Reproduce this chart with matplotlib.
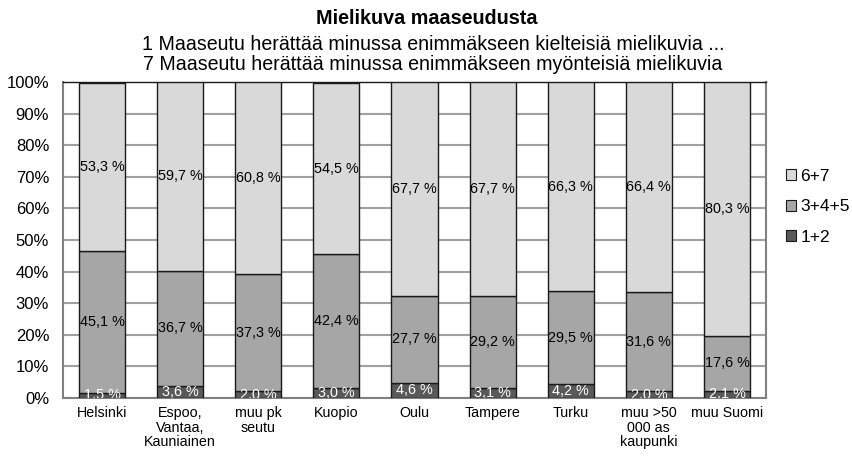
import matplotlib
matplotlib.use("Agg")
import matplotlib.pyplot as plt
import numpy as np

plt.rcParams['font.family'] = ['Liberation Sans', 'DejaVu Sans']

categories = ["Helsinki", "Espoo,\nVantaa,\nKauniainen", "muu pk\nseutu", "Kuopio", "Oulu",
              "Tampere", "Turku", "muu >50\n000 as\nkaupunki", "muu Suomi"]
s12 = [1.5, 3.6, 2.0, 3.0, 4.6, 3.1, 4.2, 2.0, 2.1]
s345 = [45.1, 36.7, 37.3, 42.4, 27.7, 29.2, 29.5, 31.6, 17.6]
s67 = [53.3, 59.7, 60.8, 54.5, 67.7, 67.7, 66.3, 66.4, 80.3]
series_names = ["1+2", "3+4+5", "6+7"]
yticks = [0, 10, 20, 30, 40, 50, 60, 70, 80, 90, 100]

colors = ["#595959", "#a6a6a6", "#d9d9d9"]
text_colors = ["white", "black", "black"]

fig = plt.figure(figsize=(8.53, 4.57), dpi=100)
ax = fig.add_axes([0.0739, 0.1298, 0.898 - 0.0739, 0.820 - 0.1298])

x = np.arange(len(categories))
bottom = np.zeros(len(categories))
handles = []
for vals, name, col, tcol in zip([s12, s345, s67], series_names, colors, text_colors):
    vals = np.array(vals)
    bars = ax.bar(x, vals, width=0.59, bottom=bottom, color=col, edgecolor="#1a1a1a",
                  linewidth=1.0, label=name, zorder=3)
    handles.append(bars)
    for xi, b, v in zip(x, bottom, vals):
        ax.text(xi, b + v / 2, f"{v:.1f} %".replace(".", ","), ha="center", va="center",
                fontsize=10.4, color=tcol, zorder=4, clip_on=True)
    bottom += vals

ax.set_xlim(-0.5, len(categories) - 0.5)
ax.set_ylim(0, 100)
ax.set_yticks(yticks)
ax.set_yticklabels([f"{t}%" for t in yticks], fontsize=12)
ax.set_xticks(x)
ax.set_xticklabels(categories, fontsize=10.3, linespacing=1.05, va="top")
ax.tick_params(axis="x", length=0, pad=6)
ax.tick_params(axis="y", length=0, pad=10)
ax.yaxis.grid(True, color="#a0a0a0", linewidth=1.5, zorder=0)
ax.set_axisbelow(True)
for sp in ax.spines.values():
    sp.set_color("#808080")
    sp.set_linewidth(1.5)
ax.spines["top"].set_color("#1a1a1a")
ax.spines["top"].set_linewidth(1.0)

leg = fig.legend(handles[::-1], series_names[::-1], loc="upper left",
                 bbox_to_anchor=(0.9027, 0.665), frameon=False, fontsize=12.5,
                 handlelength=0.6, handleheight=0.6, handletextpad=0.25, labelspacing=0.9)
for p in leg.get_patches():
    p.set_edgecolor("#1a1a1a")
    p.set_linewidth(0.8)

fig.text(427 / 853, 1 - 18 / 457, "Mielikuva maaseudusta", ha="center", va="center",
         fontsize=14.2, fontweight="bold")
fig.text(433 / 853, 1 - 44 / 457,
         "1 Maaseutu herättää minussa enimmäkseen kielteisiä mielikuvia ...",
         ha="center", va="center", fontsize=14.1)
fig.text(433 / 853, 1 - 65 / 457,
         "7 Maaseutu herättää minussa enimmäkseen myönteisiä mielikuvia",
         ha="center", va="center", fontsize=14.1)

fig.savefig("out.png", dpi=100)
